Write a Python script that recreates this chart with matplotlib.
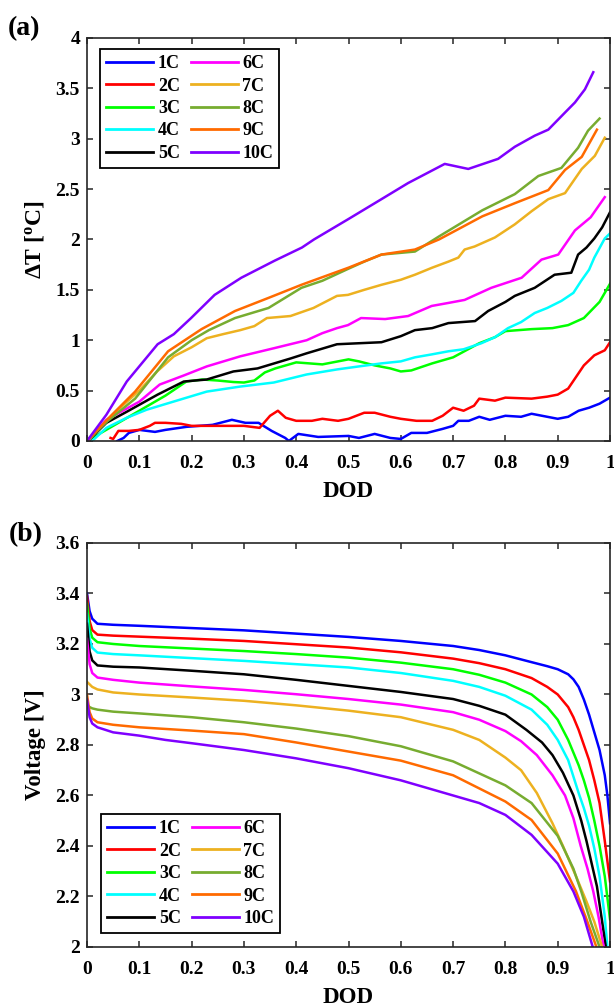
import matplotlib
matplotlib.use('Agg')
import matplotlib.pyplot as plt
from matplotlib.ticker import FormatStrFormatter, MultipleLocator

plt.rcParams['font.family'] = ['Liberation Serif', 'DejaVu Serif']
plt.rcParams['font.weight'] = 'bold'
plt.rcParams['mathtext.fontset'] = 'custom'
plt.rcParams['mathtext.rm'] = 'Liberation Serif:bold'
plt.rcParams['mathtext.it'] = 'Liberation Serif:bold'
plt.rcParams['mathtext.bf'] = 'Liberation Serif:bold'

labels = ['1C', '2C', '3C', '4C', '5C', '6C', '7C', '8C', '9C', '10C']
colors = ['#0000FF', '#FF0000', '#00FF00', '#00FFFF', '#000000',
          '#FF00FF', '#EDB120', '#77AC30', '#FF6A00', '#7F00FF']

# (a) temperature rise vs DOD
dod_t1 = [0.058, 0.07, 0.08, 0.1, 0.13, 0.15, 0.19, 0.24, 0.277, 0.303, 0.328, 0.353, 0.379,
          0.386, 0.404, 0.442, 0.5, 0.52, 0.55, 0.58, 0.6, 0.62, 0.65, 0.68, 0.7, 0.71, 0.73,
          0.75, 0.77, 0.8, 0.83, 0.85, 0.88, 0.9, 0.92, 0.94, 0.96, 0.98, 1.0]
dt_1 = [0, 0.03, 0.08, 0.11, 0.09, 0.11, 0.14, 0.16, 0.21, 0.18, 0.18, 0.1, 0.03,
        0.0, 0.07, 0.04, 0.05, 0.03, 0.07, 0.03, 0.02, 0.08, 0.08, 0.12, 0.15, 0.2, 0.2,
        0.24, 0.21, 0.25, 0.24, 0.27, 0.24, 0.22, 0.24, 0.3, 0.33, 0.37, 0.43]

dod_t2 = [0.045, 0.05, 0.06, 0.08, 0.1, 0.12, 0.13, 0.15, 0.18, 0.2, 0.25, 0.3, 0.33, 0.35,
          0.365, 0.38, 0.4, 0.43, 0.45, 0.48, 0.5, 0.53, 0.55, 0.58, 0.6, 0.63, 0.66, 0.68,
          0.7, 0.72, 0.74, 0.75, 0.78, 0.8, 0.85, 0.88, 0.9, 0.92, 0.95, 0.97, 0.99, 1.0]
dt_2 = [0.03, 0.02, 0.1, 0.1, 0.11, 0.15, 0.18, 0.18, 0.17, 0.15, 0.15, 0.15, 0.13, 0.25,
        0.3, 0.23, 0.2, 0.2, 0.22, 0.2, 0.22, 0.28, 0.28, 0.24, 0.22, 0.2, 0.2, 0.25,
        0.33, 0.3, 0.35, 0.42, 0.4, 0.43, 0.42, 0.44, 0.46, 0.52, 0.75, 0.85, 0.9, 0.98]

dod_t3 = [0, 0.05, 0.1, 0.15, 0.19, 0.22, 0.25, 0.28, 0.3, 0.32, 0.34, 0.36, 0.4, 0.45, 0.5,
          0.52, 0.55, 0.58, 0.6, 0.62, 0.66, 0.7, 0.75, 0.78, 0.8, 0.85, 0.89, 0.92, 0.95,
          0.98, 1.0]
dt_3 = [0, 0.15, 0.3, 0.45, 0.59, 0.61, 0.6, 0.585, 0.58, 0.6, 0.68, 0.72, 0.78, 0.76, 0.81,
        0.79, 0.75, 0.72, 0.69, 0.7, 0.77, 0.83, 0.97, 1.03, 1.09, 1.11, 1.12, 1.15, 1.22,
        1.38, 1.56]

dod_t4 = [0.01, 0.037, 0.076, 0.114, 0.165, 0.229, 0.293, 0.357, 0.42, 0.478, 0.52, 0.563,
          0.6, 0.627, 0.66, 0.691, 0.72, 0.754, 0.78, 0.805, 0.83, 0.856, 0.88, 0.907, 0.93,
          0.945, 0.96, 0.97, 0.99, 1.0]
dt_4 = [0, 0.13, 0.23, 0.31, 0.39, 0.49, 0.54, 0.58, 0.66, 0.71, 0.74, 0.77, 0.79, 0.83,
        0.86, 0.89, 0.91, 0.97, 1.03, 1.12, 1.18, 1.27, 1.32, 1.39, 1.47, 1.59, 1.7, 1.82,
        2.01, 2.06]

dod_t5 = [0.002, 0.037, 0.076, 0.135, 0.185, 0.229, 0.28, 0.326, 0.39, 0.42, 0.478, 0.52,
          0.563, 0.6, 0.627, 0.66, 0.691, 0.742, 0.767, 0.8, 0.818, 0.856, 0.894, 0.926,
          0.939, 0.955, 0.97, 0.985, 1.0]
dt_5 = [0, 0.18, 0.29, 0.46, 0.59, 0.61, 0.69, 0.72, 0.82, 0.87, 0.96, 0.97, 0.98, 1.04,
        1.1, 1.12, 1.17, 1.19, 1.29, 1.38, 1.44, 1.52, 1.65, 1.67, 1.85, 1.92, 2.01, 2.12,
        2.27]

dod_t6 = [0.002, 0.037, 0.1, 0.139, 0.185, 0.229, 0.293, 0.357, 0.42, 0.45, 0.478, 0.499,
          0.524, 0.57, 0.614, 0.659, 0.691, 0.722, 0.773, 0.831, 0.869, 0.901, 0.933, 0.963,
          0.99]
dt_6 = [0, 0.21, 0.39, 0.56, 0.65, 0.74, 0.84, 0.92, 1.0, 1.07, 1.12, 1.15,
        1.22, 1.21, 1.24, 1.34, 1.37, 1.4, 1.52, 1.62, 1.8, 1.85, 2.09, 2.22, 2.42]

dod_t7 = [0.0, 0.037, 0.07, 0.1, 0.134, 0.166, 0.2, 0.229, 0.26, 0.293, 0.32, 0.344, 0.389,
          0.433, 0.478, 0.499, 0.53, 0.563, 0.6, 0.627, 0.66, 0.691, 0.71, 0.722, 0.741,
          0.78, 0.818, 0.85, 0.882, 0.914, 0.946, 0.971, 0.99]
dt_7 = [0, 0.2, 0.36, 0.5, 0.69, 0.84, 0.93, 1.02, 1.06, 1.1, 1.14, 1.22, 1.24,
        1.32, 1.44, 1.45, 1.5, 1.55, 1.6, 1.65, 1.72, 1.78, 1.82, 1.9, 1.93,
        2.02, 2.15, 2.28, 2.4, 2.46, 2.7, 2.83, 3.01]

dod_t8 = [0, 0.04, 0.092, 0.155, 0.2, 0.233, 0.283, 0.347, 0.41, 0.45, 0.5, 0.53, 0.563,
          0.627, 0.673, 0.756, 0.818, 0.863, 0.907, 0.939, 0.958, 0.98]
dt_8 = [0, 0.2, 0.42, 0.83, 1.0, 1.1, 1.22, 1.32, 1.52, 1.59, 1.71, 1.78, 1.85,
        1.88, 2.03, 2.29, 2.45, 2.63, 2.71, 2.91, 3.08, 3.2]

dod_t9 = [0, 0.04, 0.092, 0.155, 0.219, 0.283, 0.347, 0.41, 0.5, 0.563, 0.627, 0.673, 0.756,
          0.818, 0.882, 0.914, 0.946, 0.975]
dt_9 = [0, 0.22, 0.49, 0.89, 1.11, 1.29, 1.42, 1.55, 1.72, 1.85, 1.9, 2.0, 2.23,
        2.36, 2.49, 2.69, 2.82, 3.09]

dod_t10 = [0, 0.037, 0.076, 0.135, 0.166, 0.199, 0.244, 0.295, 0.359, 0.411, 0.434, 0.499,
           0.563, 0.614, 0.684, 0.729, 0.786, 0.818, 0.856, 0.882, 0.914, 0.933, 0.952, 0.968]
dt_10 = [0, 0.26, 0.59, 0.96, 1.06, 1.22, 1.45, 1.62, 1.79, 1.92, 2.0, 2.2,
         2.4, 2.56, 2.75, 2.7, 2.8, 2.92, 3.03, 3.09, 3.26, 3.36, 3.49, 3.66]

# (b) voltage vs DOD
dod_v1 = [0, 0.005, 0.01, 0.02, 0.05, 0.1, 0.2, 0.3, 0.4, 0.5, 0.6, 0.7, 0.75, 0.8, 0.85,
          0.88, 0.9, 0.92, 0.93, 0.94, 0.95, 0.96, 0.97, 0.98, 0.99, 0.995, 1.0]
v_1 = [3.40, 3.33, 3.30, 3.28, 3.276, 3.272, 3.263, 3.254, 3.241, 3.228, 3.212, 3.192,
       3.176, 3.155, 3.128, 3.112, 3.10, 3.08, 3.06, 3.03, 2.98, 2.92, 2.85, 2.78,
       2.68, 2.60, 2.49]

dod_v2 = [0, 0.005, 0.01, 0.02, 0.05, 0.1, 0.2, 0.3, 0.4, 0.5, 0.6, 0.7, 0.75, 0.8, 0.85,
          0.88, 0.9, 0.92, 0.93, 0.94, 0.95, 0.96, 0.97, 0.98, 0.99, 1.0]
v_2 = [3.39, 3.29, 3.255, 3.237, 3.233, 3.229, 3.221, 3.212, 3.199, 3.186, 3.167, 3.142,
       3.124, 3.10, 3.065, 3.03, 3.0, 2.95, 2.91, 2.86, 2.80, 2.74, 2.66, 2.57, 2.42, 2.26]

dod_v3 = [0, 0.005, 0.01, 0.02, 0.05, 0.1, 0.2, 0.3, 0.4, 0.5, 0.6, 0.7, 0.75, 0.8, 0.85,
          0.88, 0.9, 0.92, 0.94, 0.95, 0.96, 0.97, 0.98, 0.99, 1.0]
v_3 = [3.36, 3.26, 3.225, 3.207, 3.200, 3.192, 3.182, 3.172, 3.160, 3.146, 3.126, 3.10,
       3.078, 3.047, 3.0, 2.95, 2.90, 2.82, 2.72, 2.66, 2.59, 2.50, 2.40, 2.28, 2.11]

dod_v4 = [0, 0.005, 0.01, 0.02, 0.05, 0.1, 0.2, 0.3, 0.4, 0.5, 0.6, 0.7, 0.75, 0.8, 0.85,
          0.88, 0.9, 0.92, 0.94, 0.95, 0.96, 0.97, 0.98, 0.99, 0.995]
v_4 = [3.32, 3.22, 3.185, 3.166, 3.160, 3.155, 3.144, 3.133, 3.120, 3.107, 3.085, 3.054,
       3.03, 2.995, 2.94, 2.88, 2.82, 2.74, 2.61, 2.55, 2.48, 2.39, 2.28, 2.12, 2.0]

dod_v5 = [0, 0.005, 0.01, 0.02, 0.05, 0.1, 0.2, 0.3, 0.4, 0.5, 0.6, 0.7, 0.75, 0.8, 0.84,
          0.87, 0.89, 0.91, 0.93, 0.945, 0.955, 0.965, 0.975, 0.985, 0.992]
v_5 = [3.28, 3.17, 3.135, 3.115, 3.110, 3.107, 3.094, 3.080, 3.058, 3.034, 3.010, 2.982,
       2.955, 2.92, 2.86, 2.81, 2.76, 2.69, 2.60, 2.50, 2.42, 2.33, 2.24, 2.10, 2.0]

dod_v6 = [0, 0.005, 0.01, 0.02, 0.05, 0.1, 0.2, 0.3, 0.4, 0.5, 0.6, 0.7, 0.75, 0.8, 0.83,
          0.86, 0.89, 0.914, 0.93, 0.944, 0.957, 0.968, 0.978, 0.988]
v_6 = [3.22, 3.12, 3.085, 3.067, 3.058, 3.047, 3.032, 3.018, 3.001, 2.982, 2.96, 2.93,
       2.90, 2.855, 2.815, 2.76, 2.68, 2.60, 2.51, 2.40, 2.31, 2.22, 2.12, 2.0]

dod_v7 = [0, 0.005, 0.01, 0.02, 0.05, 0.1, 0.2, 0.3, 0.4, 0.5, 0.6, 0.7, 0.75, 0.8, 0.83,
          0.86, 0.89, 0.91, 0.935, 0.955, 0.97, 0.985]
v_7 = [3.05, 3.04, 3.03, 3.02, 3.008, 3.0, 2.988, 2.975, 2.957, 2.936, 2.91, 2.86,
       2.82, 2.75, 2.70, 2.61, 2.49, 2.40, 2.28, 2.18, 2.10, 2.0]

dod_v8 = [0, 0.005, 0.01, 0.02, 0.05, 0.1, 0.2, 0.3, 0.4, 0.5, 0.6, 0.7, 0.8, 0.85, 0.9,
          0.93, 0.945, 0.963, 0.98]
v_8 = [2.96, 2.95, 2.945, 2.94, 2.932, 2.925, 2.91, 2.89, 2.865, 2.835, 2.795, 2.735, 2.64,
       2.57, 2.44, 2.31, 2.22, 2.10, 2.0]

dod_v9 = [0, 0.005, 0.01, 0.02, 0.05, 0.1, 0.2, 0.3, 0.4, 0.5, 0.6, 0.7, 0.8, 0.85, 0.9,
          0.935, 0.955, 0.974]
v_9 = [3.0, 2.93, 2.905, 2.89, 2.88, 2.87, 2.857, 2.843, 2.81, 2.774, 2.738, 2.68, 2.576,
       2.503, 2.37, 2.22, 2.11, 2.0]

dod_v10 = [0, 0.005, 0.01, 0.02, 0.05, 0.1, 0.15, 0.2, 0.3, 0.4, 0.5, 0.6, 0.7, 0.75, 0.8,
           0.85, 0.9, 0.93, 0.95, 0.967]
v_10 = [2.98, 2.91, 2.885, 2.87, 2.85, 2.837, 2.82, 2.807, 2.78, 2.747, 2.708, 2.66, 2.60,
        2.57, 2.523, 2.444, 2.33, 2.22, 2.12, 2.0]

dod_temp = [dod_t1, dod_t2, dod_t3, dod_t4, dod_t5, dod_t6, dod_t7, dod_t8, dod_t9, dod_t10]
temps = [dt_1, dt_2, dt_3, dt_4, dt_5, dt_6, dt_7, dt_8, dt_9, dt_10]
dod_volt = [dod_v1, dod_v2, dod_v3, dod_v4, dod_v5, dod_v6, dod_v7, dod_v8, dod_v9, dod_v10]
volts = [v_1, v_2, v_3, v_4, v_5, v_6, v_7, v_8, v_9, v_10]

fig = plt.figure(figsize=(6.14, 10.07), dpi=100)
ax1 = fig.add_axes([0.1417, 0.5621, 0.8518, 0.4002])
ax2 = fig.add_axes([0.1417, 0.0596, 0.8518, 0.4012])

for x, y, c, l in zip(dod_temp, temps, colors, labels):
    ax1.plot(x, y, color=c, lw=1.8, label=l)
for x, y, c, l in zip(dod_volt, volts, colors, labels):
    ax2.plot(x, y, color=c, lw=1.8, label=l)


def style(ax, ylim, ystep):
    ax.set_xlim(0, 1)
    ax.set_ylim(*ylim)
    ax.xaxis.set_major_locator(MultipleLocator(0.1))
    ax.yaxis.set_major_locator(MultipleLocator(ystep))
    ax.xaxis.set_major_formatter(FormatStrFormatter('%g'))
    ax.yaxis.set_major_formatter(FormatStrFormatter('%g'))
    ax.tick_params(direction='in', top=True, right=True, length=4.5, width=1.1,
                   labelsize=14, color='#262626')
    ax.tick_params(axis='x', pad=10)
    ax.tick_params(axis='y', pad=5)
    for s in ax.spines.values():
        s.set_linewidth(1.2)
        s.set_color('#262626')
    ax.set_xlabel('DOD', fontsize=16.5, fontweight='bold')
    ax.xaxis.set_label_coords(0.5, -0.1)


style(ax1, (0, 4), 0.5)
style(ax2, (2, 3.6), 0.2)
ax1.set_ylabel('ΔT [$^{\\mathrm{o}}$C]', fontsize=17, fontweight='bold')
ax2.set_ylabel('Voltage [V]', fontsize=16.5, fontweight='bold')
ax1.yaxis.set_label_coords(-0.078, 0.5)
ax2.yaxis.set_label_coords(-0.078, 0.5)

leg_kw = dict(ncol=2, fontsize=13, frameon=True, fancybox=False, edgecolor='black',
              handlelength=2.6, handletextpad=0.25, columnspacing=0.6,
              labelspacing=0.3, borderpad=0.35, borderaxespad=0)
lg1 = ax1.legend(loc='upper left', bbox_to_anchor=(0.025, 0.973), **leg_kw)
lg2 = ax2.legend(loc='lower left', bbox_to_anchor=(0.027, 0.034), **leg_kw)
for lg in (lg1, lg2):
    lg.get_frame().set_linewidth(1.3)
    lg.get_frame().set_alpha(1)
    for h in lg.get_lines():
        h.set_linewidth(2)

fig.text(0.012, 0.972, '(a)', fontsize=20, fontweight='bold', va='center')
fig.text(0.014, 0.4687, '(b)', fontsize=20, fontweight='bold', va='center')

fig.savefig('out.png', dpi=100)
